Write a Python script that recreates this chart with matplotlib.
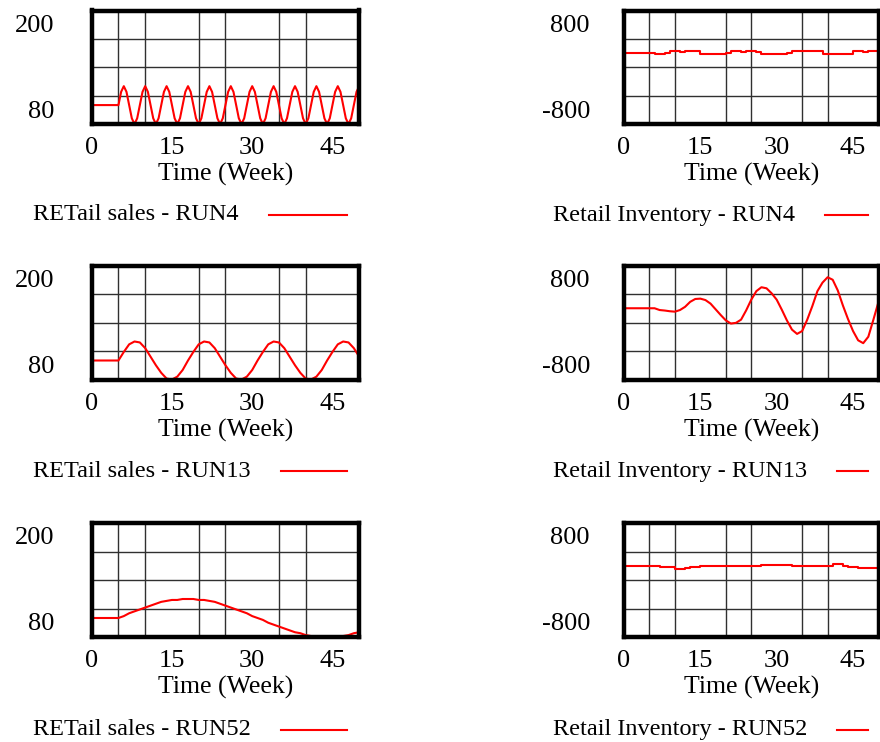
import numpy as np
import matplotlib
matplotlib.use("Agg")
import matplotlib.pyplot as plt
from matplotlib.transforms import ScaledTranslation
from matplotlib.lines import Line2D

# ---------------- data ----------------
weeks = np.arange(0, 51)            # weekly samples 0..50
weeks_half = np.arange(0, 50.5, 0.5)  # half-week samples 0..50

sales_run4 = [100, 100, 100, 100, 100, 100, 100, 100, 100, 100, 100,
              114, 120, 114, 100, 86, 80, 86, 100,
              114, 120, 114, 100, 86, 80, 86, 100,
              114, 120, 114, 100, 86, 80, 86, 100,
              114, 120, 114, 100, 86, 80, 86, 100,
              114, 120, 114, 100, 86, 80, 86, 100,
              114, 120, 114, 100, 86, 80, 86, 100,
              114, 120, 114, 100, 86, 80, 86, 100,
              114, 120, 114, 100, 86, 80, 86, 100,
              114, 120, 114, 100, 86, 80, 86, 100,
              114, 120, 114, 100, 86, 80, 86, 100,
              114, 120, 114, 100, 86, 80, 86, 100,
              114, 120]

sales_run13 = [100, 100, 100, 100, 100, 100,
               109, 117, 120, 119, 113, 104, 95, 87, 81, 80, 83, 90, 100,
               109, 117, 120, 119, 113, 104, 95, 87, 81, 80, 83, 90, 100,
               109, 117, 120, 119, 113, 104, 95, 87, 81, 80, 83, 90, 100,
               109, 117, 120, 119, 113, 104]

sales_run52 = [100, 100, 100, 100, 100, 100,
               102, 105, 107, 109, 111, 113, 115, 117, 118, 119, 119, 120,
               120, 120, 119, 119, 118, 117, 115, 113, 111, 109, 107, 105,
               102, 100, 98, 95, 93, 91, 89, 87, 85, 84, 82, 81, 81, 80,
               80, 80, 81, 81, 82, 84, 85]

inv_run4 = [200, 200, 200, 200, 200, 200,
            185, 183, 205, 230, 232, 220, 232, 232, 230,
            190, 185, 185, 190, 185, 205, 230, 232, 220, 232, 230,
            210, 185, 185, 190, 185, 185, 200, 230, 232, 232, 225,
            232, 230, 190, 185, 185, 190, 185, 190, 228, 232, 215,
            230, 232, 232]

inv_run13 = [200, 200, 200, 200, 200, 200, 200,
             175, 168, 158, 152, 175, 220, 290, 330, 335, 315, 265,
             185, 105, 30, -15, -5, 40, 170, 320, 440, 495, 480, 410,
             320, 180, 30, -100, -160, -120, 40, 230, 440, 560, 635,
             600, 450, 240, 50, -120, -250, -290, -200, 40, 290]

inv_run52 = [200, 200, 200, 200, 200, 200, 200,
             180, 180, 178, 155, 155, 175, 180, 185,
             200, 200, 200, 200, 200, 200, 200, 200, 200, 200, 200, 200,
             215, 215, 215, 215, 215, 215,
             200, 200, 200, 200, 200, 200, 200, 200,
             218, 218, 190, 188, 188,
             170, 170, 170, 170, 170]

sales_labels = ["RETail sales - RUN4", "RETail sales - RUN13", "RETail sales - RUN52"]
inv_labels = ["Retail Inventory - RUN4", "Retail Inventory - RUN13", "Retail Inventory - RUN52"]

x_ticks = [0, 15, 30, 45]
x_grid = [5, 10, 15, 20, 25, 30, 35, 40, 45]
sales_ylim = [80, 200]
sales_grid = [110, 140, 170]
inv_ylim = [-800, 800]
inv_grid = [-400, 0, 400]
inv_tick_labels = ["-800", "800"]
sales_tick_labels = ["80", "200"]

# ---------------- layout ----------------
W, H = 880, 742
fig = plt.figure(figsize=(W / 100, H / 100), dpi=100)
FONT = "Liberation Serif"
RED = "#FF0000"

rows = [(10.5, 124.0), (265.5, 379.5), (523.0, 637.0)]
left_x = (91.7, 359.2)
right_x = (624.0, 878.5)
legend_y = [215.0, 471.5, 729.5]


def add_axes_px(x0, x1, y0, y1):
    return fig.add_axes([x0 / W, 1 - y1 / H, (x1 - x0) / W, (y1 - y0) / H])


def style_axes(ax, ylim, ygrid, ylabels, ypad):
    ax.set_xlim(0, 50)
    ax.set_ylim(*ylim)
    ax.set_xticks(x_ticks)
    ax.set_xticklabels([str(v) for v in x_ticks])
    ax.set_xticks(x_grid, minor=True)
    ax.set_yticks(ylim)
    ax.set_yticklabels(ylabels)
    ax.set_yticks(ygrid, minor=True)
    ax.grid(which="minor", color="#303030", linewidth=1.0)
    ax.grid(which="major", visible=False)
    ax.tick_params(which="both", length=0)
    ax.tick_params(axis="x", which="major", pad=9.5, labelsize=19)
    ax.tick_params(axis="y", which="major", pad=ypad, labelsize=19)
    for lab in ax.get_xticklabels() + ax.get_yticklabels():
        lab.set_fontfamily(FONT)
    for sp in ax.spines.values():
        sp.set_linewidth(3.2)
        sp.set_color("black")
    ax.set_xlabel("Time (Week)", fontsize=18.5, family=FONT, labelpad=3)
    # Vensim-style: min/max labels pulled inside the axis range
    offs = [15, -13]
    for lab, dy in zip(ax.get_yticklabels(), offs):
        lab.set_transform(lab.get_transform() +
                          ScaledTranslation(0, dy / 100, fig.dpi_scale_trans))


sales_series = [(weeks_half, sales_run4), (weeks, sales_run13), (weeks, sales_run52)]
inv_series = [(weeks, inv_run4, "steps-post"), (weeks, inv_run13, "default"),
              (weeks, inv_run52, "steps-post")]

legend_items = []
for i, (y0, y1) in enumerate(rows):
    axl = add_axes_px(left_x[0], left_x[1], y0, y1)
    t, v = sales_series[i]
    axl.plot(t, v, color=RED, linewidth=1.5)
    style_axes(axl, sales_ylim, sales_grid, sales_tick_labels, 27)

    axr = add_axes_px(right_x[0], right_x[1], y0, y1)
    t, v, ds = inv_series[i]
    axr.plot(t, v, color=RED, linewidth=1.5, drawstyle=ds)
    style_axes(axr, inv_ylim, inv_grid, inv_tick_labels, 24.5)

    tl = fig.text(33 / W, 1 - legend_y[i] / H, sales_labels[i], fontsize=17.5,
                  family=FONT, va="center", ha="left")
    tr = fig.text(553 / W, 1 - legend_y[i] / H, inv_labels[i], fontsize=17.5,
                  family=FONT, va="center", ha="left")
    legend_items.append((tl, 347.0, legend_y[i]))
    legend_items.append((tr, 868.0, legend_y[i]))

fig.canvas.draw()
renderer = fig.canvas.get_renderer()
for txt, xend, ly in legend_items:
    bb = txt.get_window_extent(renderer)
    xstart = bb.x1 + 30
    fig.add_artist(Line2D([xstart / W, xend / W], [1 - ly / H, 1 - ly / H],
                          transform=fig.transFigure, color=RED, linewidth=1.5))

fig.savefig("out.png", dpi=100)
